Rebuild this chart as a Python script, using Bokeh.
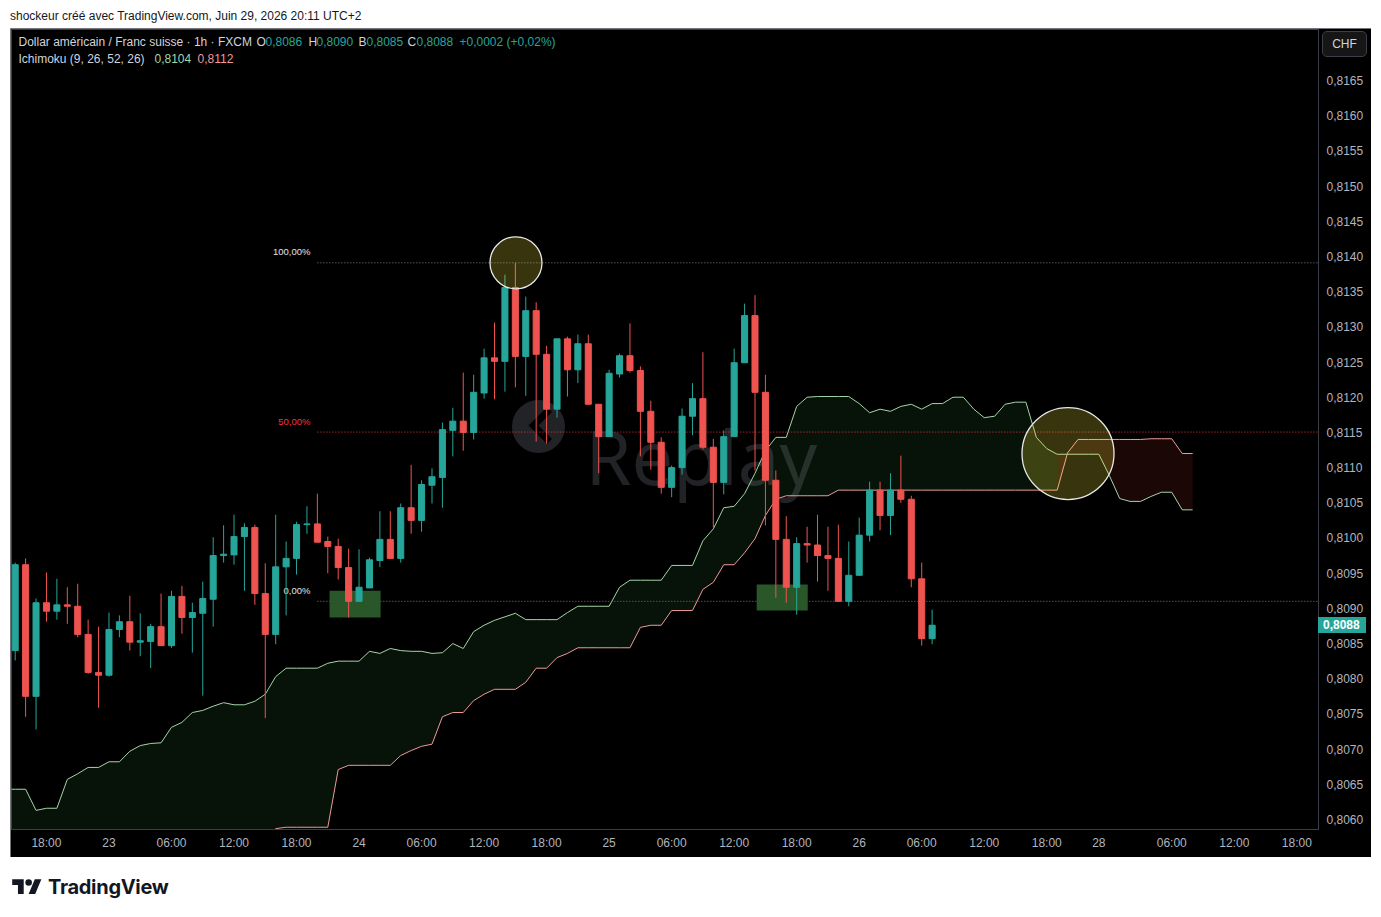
from bokeh.plotting import figure
from bokeh.models import FixedTicker, Div
from bokeh.layouts import column
from bokeh.embed import file_html
from bokeh.resources import INLINE
from bokeh.core.properties import value

# ---------------- data (USD/CHF, 1h, FXCM) ----------------
opens = [0.80840, 0.80962, 0.80775, 0.80908, 0.80896, 0.80905, 0.80903, 0.80863, 0.80809, 0.80805,
         0.80870, 0.80881, 0.80852, 0.80853, 0.80874, 0.80847, 0.80917, 0.80887, 0.80893, 0.80913,
         0.80975, 0.80976, 0.81002, 0.81015, 0.80921, 0.80863, 0.80959, 0.80971, 0.81019, 0.81020,
         0.80995, 0.80988, 0.80958, 0.80910, 0.80929, 0.80968, 0.80998, 0.80971, 0.81043, 0.81025,
         0.81075, 0.81086, 0.81153, 0.81166, 0.81150, 0.81206, 0.81256, 0.81251, 0.81356, 0.81258,
         0.81323, 0.81261, 0.81183, 0.81283, 0.81239, 0.81276, 0.81190, 0.81144, 0.81233, 0.81259,
         0.81238, 0.81180, 0.81136, 0.81072, 0.81100, 0.81173, 0.81198, 0.81129, 0.81079, 0.81144,
         0.81249, 0.81316, 0.81207, 0.81082, 0.80998, 0.80930, 0.80992, 0.80990, 0.80975, 0.80971,
         0.80910, 0.80947, 0.81004, 0.81068, 0.81032, 0.81068, 0.81055, 0.80942, 0.80857]
highs = [0.80965, 0.80971, 0.80914, 0.80951, 0.80942, 0.80930, 0.80935, 0.80884, 0.80874, 0.80894,
         0.80890, 0.80918, 0.80893, 0.80878, 0.80921, 0.80925, 0.80932, 0.80908, 0.80938, 0.81001,
         0.81018, 0.81033, 0.81021, 0.81019, 0.80964, 0.81033, 0.80995, 0.81023, 0.81045, 0.81063,
         0.81002, 0.80999, 0.80985, 0.80984, 0.80972, 0.81038, 0.81038, 0.81049, 0.81104, 0.81082,
         0.81099, 0.81164, 0.81185, 0.81235, 0.81232, 0.81269, 0.81306, 0.81374, 0.81391, 0.81343,
         0.81335, 0.81273, 0.81283, 0.81286, 0.81289, 0.81289, 0.81190, 0.81239, 0.81262, 0.81305,
         0.81244, 0.81195, 0.81143, 0.81103, 0.81184, 0.81220, 0.81264, 0.81141, 0.81153, 0.81269,
         0.81333, 0.81345, 0.81232, 0.81096, 0.81031, 0.81001, 0.81016, 0.81033, 0.81016, 0.81019,
         0.80995, 0.81029, 0.81080, 0.81080, 0.81092, 0.81117, 0.81060, 0.80965, 0.80898]
lows = [0.80826, 0.80746, 0.80728, 0.80881, 0.80884, 0.80878, 0.80859, 0.80807, 0.80759, 0.80803,
        0.80859, 0.80840, 0.80832, 0.80815, 0.80847, 0.80844, 0.80864, 0.80837, 0.80776, 0.80874,
        0.80965, 0.80962, 0.80925, 0.80905, 0.80744, 0.80849, 0.80890, 0.80948, 0.81006, 0.80994,
        0.80950, 0.80941, 0.80887, 0.80910, 0.80929, 0.80959, 0.80971, 0.80965, 0.81006, 0.81009,
        0.81049, 0.81043, 0.81116, 0.81124, 0.81140, 0.81198, 0.81197, 0.81208, 0.81214, 0.81202,
        0.81137, 0.81134, 0.81171, 0.81201, 0.81220, 0.81190, 0.81092, 0.81144, 0.81228, 0.81235,
        0.81116, 0.81097, 0.81063, 0.81058, 0.81090, 0.81146, 0.81126, 0.81015, 0.81062, 0.81144,
        0.81249, 0.81096, 0.81018, 0.80915, 0.80908, 0.80891, 0.80965, 0.80938, 0.80925, 0.80910,
        0.80903, 0.80947, 0.80995, 0.81011, 0.81004, 0.81050, 0.80930, 0.80847, 0.80849]
closes = [0.80962, 0.80775, 0.80908, 0.80896, 0.80905, 0.80903, 0.80863, 0.80809, 0.80805, 0.80870,
          0.80881, 0.80852, 0.80854, 0.80874, 0.80847, 0.80917, 0.80887, 0.80894, 0.80914, 0.80975,
          0.80977, 0.81002, 0.81015, 0.80921, 0.80863, 0.80959, 0.80971, 0.81019, 0.81020, 0.80994,
          0.80988, 0.80958, 0.80910, 0.80930, 0.80969, 0.80998, 0.80971, 0.81043, 0.81025, 0.81076,
          0.81087, 0.81154, 0.81166, 0.81150, 0.81207, 0.81256, 0.81251, 0.81356, 0.81258, 0.81323,
          0.81261, 0.81183, 0.81283, 0.81239, 0.81276, 0.81190, 0.81144, 0.81234, 0.81259, 0.81238,
          0.81180, 0.81136, 0.81072, 0.81100, 0.81173, 0.81198, 0.81129, 0.81079, 0.81144, 0.81249,
          0.81316, 0.81207, 0.81082, 0.80998, 0.80930, 0.80992, 0.80990, 0.80975, 0.80971, 0.80910,
          0.80947, 0.81004, 0.81068, 0.81032, 0.81068, 0.81055, 0.80942, 0.80857, 0.80876]

# Ichimoku cloud (leading spans), bar index -1 .. 113
cloud_first_bar = -1
span_a = [0.80643, 0.80643, 0.80643, 0.80613, 0.80616, 0.80616, 0.80657, 0.80665, 0.80674, 0.80674,
          0.80682, 0.80682, 0.80697, 0.80705, 0.80708, 0.80709, 0.80731, 0.80738, 0.80752, 0.80755,
          0.80761, 0.80766, 0.80763, 0.80763, 0.80768, 0.80778, 0.80803, 0.80815, 0.80815, 0.80815,
          0.80815, 0.80822, 0.80825, 0.80825, 0.80825, 0.80839, 0.80836, 0.80843, 0.80840, 0.80839,
          0.80839, 0.80836, 0.80837, 0.80850, 0.80843, 0.80867, 0.80876, 0.80883, 0.80888, 0.80893,
          0.80884, 0.80884, 0.80884, 0.80884, 0.80894, 0.80903, 0.80903, 0.80903, 0.80903, 0.80930,
          0.80940, 0.80940, 0.80940, 0.80940, 0.80961, 0.80961, 0.80961, 0.80996, 0.81013, 0.81043,
          0.81045, 0.81063, 0.81092, 0.81124, 0.81143, 0.81143, 0.81187, 0.81200, 0.81201, 0.81201,
          0.81201, 0.81201, 0.81191, 0.81178, 0.81183, 0.81180, 0.81187, 0.81190, 0.81183, 0.81191,
          0.81191, 0.81200, 0.81200, 0.81183, 0.81171, 0.81173, 0.81190, 0.81193, 0.81193, 0.81143,
          0.81127, 0.81119, 0.81119, 0.81119, 0.81119, 0.81119, 0.81089, 0.81056, 0.81052, 0.81052,
          0.81059, 0.81065, 0.81065, 0.81040, 0.81040]
span_b = [0.80560, 0.80560, 0.80560, 0.80560, 0.80560, 0.80560, 0.80560, 0.80560, 0.80560, 0.80560,
          0.80560, 0.80560, 0.80560, 0.80560, 0.80560, 0.80560, 0.80560, 0.80560, 0.80560, 0.80560,
          0.80560, 0.80560, 0.80560, 0.80560, 0.80560, 0.80560, 0.80587, 0.80589, 0.80589, 0.80589,
          0.80589, 0.80589, 0.80671, 0.80677, 0.80677, 0.80677, 0.80677, 0.80677, 0.80691, 0.80698,
          0.80704, 0.80707, 0.80746, 0.80752, 0.80752, 0.80769, 0.80778, 0.80785, 0.80785, 0.80785,
          0.80795, 0.80815, 0.80815, 0.80830, 0.80836, 0.80844, 0.80844, 0.80844, 0.80844, 0.80844,
          0.80844, 0.80873, 0.80876, 0.80876, 0.80897, 0.80897, 0.80897, 0.80927, 0.80937, 0.80962,
          0.80962, 0.80979, 0.80999, 0.81032, 0.81055, 0.81060, 0.81060, 0.81060, 0.81060, 0.81060,
          0.81068, 0.81068, 0.81068, 0.81068, 0.81068, 0.81068, 0.81068, 0.81068, 0.81068, 0.81068,
          0.81068, 0.81068, 0.81068, 0.81068, 0.81068, 0.81068, 0.81068, 0.81068, 0.81068, 0.81068,
          0.81068, 0.81068, 0.81121, 0.81140, 0.81140, 0.81140, 0.81140, 0.81140, 0.81140, 0.81140,
          0.81141, 0.81141, 0.81141, 0.81120, 0.81120]

# Fibonacci retracement
fib_high = 0.81391
fib_low = 0.80910
fib_start_bar = 29
fib_ratios = [1.0, 0.5, 0.0]
fib_labels = ["100,00%", "50,00%", "0,00%"]

# drawings
rect_left = [30.17, 71.16]
rect_right = [35.07, 76.06]
rect_top = [0.80925, 0.80934]
rect_bottom = [0.80887, 0.80897]
circ_x = [48.06, 101.04]
circ_y = [0.81391, 0.81120]
circ_r = [26, 46]

# axes
x_ticks = [3, 9, 15, 21, 27, 33, 39, 45, 51, 57, 63, 69, 75, 81, 87, 93, 99, 104, 111, 117, 123]
x_tick_labels = ["18:00", "23", "06:00", "12:00", "18:00", "24", "06:00", "12:00", "18:00", "25",
                 "06:00", "12:00", "18:00", "26", "06:00", "12:00", "18:00", "28", "06:00", "12:00", "18:00"]
y_ticks = [0.8060, 0.8065, 0.8070, 0.8075, 0.8080, 0.8085, 0.8090, 0.8095, 0.8100, 0.8105, 0.8110,
           0.8115, 0.8120, 0.8125, 0.8130, 0.8135, 0.8140, 0.8145, 0.8150, 0.8155, 0.8160, 0.8165]
y_tick_labels = ["0,8060", "0,8065", "0,8070", "0,8075", "0,8080", "0,8085", "0,8090", "0,8095",
                 "0,8100", "0,8105", "0,8110", "0,8115", "0,8120", "0,8125", "0,8130", "0,8135",
                 "0,8140", "0,8145", "0,8150", "0,8155", "0,8160", "0,8165"]

# ---------------- layout / style ----------------
UP = "#26a69a"
DOWN = "#ef5350"
TXT = "#d1d4dc"
AXT = "#b2b5be"
FONT = "Liberation Sans"

PAGE_X, PAGE_Y = 10, 28   # page position of the figure's top-left corner
FIG_W, FIG_H = 1361, 829
FW, FH = 1307, 800
X0, X1 = -0.355, 125.08
Y0, Y1 = 0.805858, 0.817225
FL, FT = 11, 29          # page position of the frame's top-left corner
DX = (X1 - X0) / FW
DY = (Y1 - Y0) / FH


def px_x(px):
    return X0 + (px - FL) * DX


def px_y(py):
    return Y1 - (py - FT) * DY


def y_px(v):
    return FT + (Y1 - v) / DY


def fmt(v):
    return ("%.4f" % v).replace(".", ",")


p = figure(width=FIG_W, height=FIG_H, x_range=(X0, X1), y_range=(Y0, Y1),
           y_axis_location="right", output_backend="svg", toolbar_location=None,
           min_border_left=1, min_border_right=53, min_border_top=1, min_border_bottom=28,
           background_fill_color="#000000", border_fill_color="#000000",
           outline_line_color=None, title_location=None)
p.margin = (0, 0, 0, PAGE_X)
p.styles = {"outline": "1px solid #9a9ca3", "outline-offset": "-1px"}
p.grid.visible = False

# watermark
WM = "#222327"
p.scatter(x=[px_x(538)], y=[px_y(426)], size=53, marker="circle", fill_color=WM, line_color=None)
p.line(x=[px_x(549), px_x(533), px_x(549)], y=[px_y(409), px_y(425), px_y(441)],
       line_color="#000000", line_width=7, line_join="miter")
p.text(x=[px_x(585)], y=[px_y(456)], text=["Replay"], text_color=WM,
       text_font=value("Noto Sans"), text_font_size=value("74px"), text_baseline="alphabetic")

# cloud fill, split into runs of one colour
cloud_x = [cloud_first_bar + i for i in range(len(span_a))]
seg_green = [span_a[j] >= span_b[j] for j in range(len(span_a))]
runs = []
start = 0
for j in range(1, len(span_a)):
    if j == len(span_a) - 1 or seg_green[j + 1] != seg_green[j]:
        runs.append((start, j, seg_green[j]))
        start = j
xs, ys, fc = [], [], []
for s, e, g in runs:
    xs.append(cloud_x[s:e + 1] + cloud_x[s:e + 1][::-1])
    ys.append(span_a[s:e + 1] + span_b[s:e + 1][::-1])
    fc.append("#43a047" if g else "#f44336")
p.patches(xs, ys, fill_color=fc, fill_alpha=0.11, line_color=None)
p.line(cloud_x, span_a, line_color="#a5d6a7", line_width=1)
p.line(cloud_x, span_b, line_color="#ef9a9a", line_width=1)

# fibonacci
fib_prices = [fib_low + r * (fib_high - fib_low) for r in fib_ratios]
fib_colors = ["#787b86", "#f23645", "#787b86"]
fib_text_colors = ["#e0e3eb", "#f23645", "#e0e3eb"]
p.segment(x0=[fib_start_bar] * 3, x1=[X1 + 10] * 3, y0=fib_prices, y1=fib_prices,
          line_color=fib_colors, line_dash="1 2", line_width=1)
p.text(x=[px_x(310)] * 3, y=[v + 11 * DY for v in fib_prices], text=fib_labels,
       text_color=fib_text_colors, text_align="right", text_baseline="middle",
       text_font=value(FONT), text_font_size=value("9.5px"))

# rectangles
p.quad(left=rect_left, right=rect_right, top=rect_top, bottom=rect_bottom,
       fill_color="#2a5729", line_color=None)

# candles
bars = list(range(len(opens)))
cols = [UP if c >= o else DOWN for o, c in zip(opens, closes)]
p.segment(x0=bars, y0=lows, x1=bars, y1=highs, line_color=cols, line_width=1)
p.vbar(x=bars, width=0.58, top=[max(o, c) for o, c in zip(opens, closes)],
       bottom=[min(o, c) for o, c in zip(opens, closes)], fill_color=cols, line_color=cols, line_width=1)

# circles
p.circle(x=circ_x, y=circ_y, radius=circ_r, radius_units="screen",
         fill_color="#ffeb3b", fill_alpha=0.22, line_color="#e8e8e8", line_width=1.3)

# legend (top-left)
chg = closes[-1] - closes[-2]
pct = chg / closes[-2] * 100
leg_txt = ["Dollar américain / Franc suisse · 1h · FXCM", "O", fmt(opens[-1]), "H", fmt(highs[-1]),
           "B", fmt(lows[-1]), "C", fmt(closes[-1]),
           ("%+.4f" % chg).replace(".", ",") + " (" + ("%+.2f" % pct).replace(".", ",") + "%)",
           "Ichimoku (9, 26, 52, 26)", fmt(span_a[-1]), fmt(span_b[-1])]
leg_px = [18, 256, 265, 308, 316, 358, 366, 407, 416, 459, 18, 154, 197]
leg_py = [41] * 10 + [58] * 3
vc = UP if chg >= 0 else DOWN
leg_col = [TXT, TXT, vc, TXT, vc, TXT, vc, TXT, vc, vc, TXT, "#a5d6a7", "#ef9a9a"]
p.text(x=[px_x(v) for v in leg_px], y=[px_y(v) for v in leg_py], text=leg_txt, text_color=leg_col,
       text_font=value(FONT), text_font_size=value("12px"), text_baseline="middle")

# axes
xa = p.xaxis[0]
xa.ticker = FixedTicker(ticks=x_ticks)
xa.major_label_overrides = {t: l for t, l in zip(x_ticks, x_tick_labels)}
ya = p.yaxis[0]
ya.ticker = FixedTicker(ticks=y_ticks)
ya.major_label_overrides = {t: l for t, l in zip(y_ticks, y_tick_labels)}
for ax in (xa, ya):
    ax.axis_line_color = "#3a3d45"
    ax.major_tick_line_color = None
    ax.minor_tick_line_color = None
    ax.major_tick_out = 0
    ax.major_tick_in = 0
    ax.major_label_text_color = AXT
    ax.major_label_text_font = FONT
    ax.major_label_text_font_size = "12px"
xa.major_label_standoff = 6
ya.major_label_standoff = 8

# ---------------- surrounding page parts ----------------
title_div = Div(text='<div style="font-family:\'Liberation Sans\';font-size:12px;color:#131722;'
                     'line-height:12px;white-space:nowrap">'
                     'shockeur créé avec TradingView.com, Juin 29, 2026 20:11 UTC+2</div>',
                width=1363, height=20, margin=(8, 0, 0, 10))

LOGO_X, LOGO_Y = 8, PAGE_Y + FIG_H        # page position of the logo block
tag_top = y_px(closes[-1]) - 8
overlay = (
    '<div style="position:absolute;z-index:10;left:%dpx;top:%dpx;width:48px;height:16px;'
    'background:%s;color:#ffffff;font-family:\'Liberation Sans\';font-weight:700;font-size:12px;'
    'line-height:16px;padding-left:5px;box-sizing:border-box">%s</div>'
    % (1318 - LOGO_X, round(tag_top - LOGO_Y), UP, fmt(closes[-1]))
    + '<div style="position:absolute;z-index:10;left:%dpx;top:%dpx;width:45px;height:26px;'
      'border:1px solid #3c3f47;border-radius:5px;background:#161616;color:%s;'
      'font-family:\'Liberation Sans\';font-size:12px;line-height:24px;text-align:center;'
      'box-sizing:border-box">CHF</div>' % (1322 - LOGO_X, 31 - LOGO_Y, TXT)
)
logo_div = Div(text='<div style="position:relative;height:50px;width:1360px;overflow:visible">'
                    + overlay +
                    '<svg style="position:absolute;left:4px;top:19px" width="30" height="23" viewBox="0 0 36 28">'
                    '<path d="M14 22H7V11H0V4h14v18zM28 22h-8l7.5-18h8L28 22z" fill="#131722"/>'
                    '<circle cx="20" cy="8" r="4" fill="#131722"/></svg>'
                    '<span style="position:absolute;left:40px;top:18px;font-family:Inter;font-weight:700;'
                    'font-size:20px;line-height:24px;color:#131722;letter-spacing:-0.3px">TradingView</span></div>',
               width=1363, height=50, margin=(0, 0, 0, LOGO_X))

layout = column(title_div, p, logo_div, spacing=0)
open("out.html", "w").write(file_html(layout, INLINE))
